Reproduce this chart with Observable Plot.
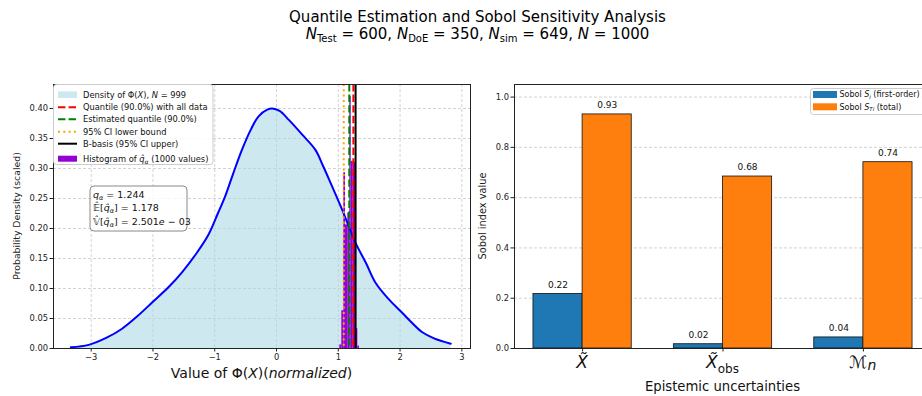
<!DOCTYPE html>
<html><head><meta charset="utf-8">
<script src="https://cdn.jsdelivr.net/npm/d3@7"></script>
<script src="https://cdn.jsdelivr.net/npm/@observablehq/plot@0.6"></script>
<style>
body{margin:0;background:#fff;}
#wrap{position:relative;width:922px;height:396px;overflow:hidden;font-family:"DejaVu Sans",sans-serif;background:#fff;}
#left,#right{position:absolute;top:0;width:480px;height:396px;}
#left{left:0px;} #right{left:460px;}
#left svg,#right svg{max-width:none !important;}
.title{position:absolute;left:0;width:955px;text-align:center;font-size:15px;line-height:18px;color:#000;white-space:nowrap;}
.title sub{font-size:10px;vertical-align:-3px;line-height:0;}
</style></head><body>
<div id="wrap">
  <div id="left"></div><div id="right"></div>
  <div class="title" style="top:8px">Quantile Estimation and Sobol Sensitivity Analysis</div>
  <div class="title" style="top:25px"><i>N</i><sub>Test</sub> = 600, <i>N</i><sub>DoE</sub> = 350, <i>N</i><sub>sim</sub> = 649, <i>N</i> = 1000</div>
</div>
<script>
// ---------- Left panel data ----------
const densX = [-3.33,-3.04,-2.75,-2.50,-2.25,-2.01,-1.75,-1.53,-1.30,-1.10,-0.95,-0.83,-0.70,-0.56,-0.42,-0.29,-0.15,-0.07,0.05,0.20,0.42,0.63,0.75,0.85,1.06,1.28,1.45,1.60,1.80,2.03,2.20,2.36,2.55,2.82];
const densY = [0.002,0.006,0.018,0.033,0.054,0.077,0.102,0.127,0.158,0.190,0.225,0.254,0.292,0.331,0.364,0.387,0.398,0.400,0.396,0.381,0.356,0.331,0.305,0.282,0.232,0.176,0.142,0.110,0.084,0.060,0.042,0.027,0.017,0.008];
const histEdges = [1.025,1.057,1.089,1.117,1.154,1.186,1.209,1.241,1.278,1.316,1.343];
const histHeights = [0.006,0.063,0.293,0.206,0.226,0.420,0.312,0.310,0.033,0.004];
const qCILower = 1.088;   // 95% CI lower bound
const qEstimated = 1.178; // estimated quantile
const qAllData = 1.244;   // quantile with all data
const qBBasis = 1.280;    // B-basis
const leftXTicks = [-3,-2,-1,0,1,2,3];
const leftYTicks = [0,0.05,0.10,0.15,0.20,0.25,0.30,0.35,0.40];

// ---------- Right panel data ----------
const sobolCategories = ["X~", "X~obs", "Mn"];
const sobolFirst = [0.217, 0.017, 0.044];
const sobolTotal = [0.931, 0.684, 0.741];
const rightYTicks = [0,0.2,0.4,0.6,0.8,1.0];

const dens = densX.map((x,i)=>({x, y: densY[i]}));
const hist = histHeights.map((h,i)=>({x1: histEdges[i], x2: histEdges[i+1], y: h}));

const gridStyle = {stroke:"#c8c8c8", strokeOpacity:1, strokeDasharray:"3,2", strokeWidth:0.8};
const dashLong = "7.4,3.2", dotted = "2,3.3";

const L = Plot.plot({
  width: 480, height: 396,
  marginLeft: 53, marginRight: 10, marginTop: 84, marginBottom: 48,
  style: {fontFamily: "DejaVu Sans", fontSize: "8.3px", background: "transparent", color: "#222", maxWidth: "none"},
  x: {domain: [-3.61, 3.14]},
  y: {domain: [0, 0.44]},
  marks: [
    Plot.gridX(leftXTicks, gridStyle),
    Plot.gridY(leftYTicks, gridStyle),
    Plot.areaY(dens, {x:"x", y:"y", fill:"#add8e6", fillOpacity:0.6, curve:"catmull-rom"}),
    Plot.rectY(hist, {x1:"x1", x2:"x2", y:"y", fill:"#9400d3", insetLeft:0, insetRight:0}),
    Plot.lineY(dens, {x:"x", y:"y", stroke:"blue", strokeWidth:2, curve:"catmull-rom"}),
    Plot.ruleX([qAllData], {stroke:"red", strokeWidth:2, strokeDasharray:dashLong}),
    Plot.ruleX([qEstimated], {stroke:"green", strokeWidth:2, strokeDasharray:dashLong}),
    Plot.ruleX([qCILower], {stroke:"orange", strokeWidth:2, strokeDasharray:dotted}),
    Plot.ruleX([qBBasis], {stroke:"black", strokeWidth:2}),
    Plot.frame({stroke:"#222", strokeWidth:1}),
    Plot.axisX(leftXTicks, {tickSize:3.5, tickPadding:2, tickFormat:d3.format("d"), label:null}),
    Plot.axisY(leftYTicks, {tickSize:3.5, tickPadding:2, tickFormat:d3.format(".2f"), label:null})
  ]
});
document.getElementById("left").appendChild(L);

const sl = d3.select(L);
// axis labels
sl.append("text").attr("transform","translate(17,216) rotate(-90)").attr("text-anchor","middle")
  .attr("dominant-baseline","middle").attr("font-size","9.3px").attr("fill","#222").text("Probability Density (scaled)");
sl.append("g").html(`<text x="261.5" y="378" text-anchor="middle" font-size="14px" fill="#111">Value of Φ(<tspan font-style="italic">X</tspan>)(<tspan font-style="italic">normalized</tspan>)</text>`);

// legend
const lg = sl.append("g").attr("font-size","8.3px").attr("fill","#111").attr("text-anchor","start");
lg.append("rect").attr("x",53.5).attr("y",84.5).attr("width",159.5).attr("height",80).attr("rx",3)
  .attr("fill","white").attr("fill-opacity",0.85).attr("stroke","#cccccc");
const ly = [94.7,107.3,119.3,131.7,143.7,158.7];
lg.append("rect").attr("x",58).attr("y",ly[0]-3.3).attr("width",19).attr("height",6.6).attr("fill","#add8e6").attr("fill-opacity",0.6);
lg.append("line").attr("x1",58).attr("x2",77).attr("y1",ly[1]).attr("y2",ly[1]).attr("stroke","red").attr("stroke-width",2).attr("stroke-dasharray",dashLong);
lg.append("line").attr("x1",58).attr("x2",77).attr("y1",ly[2]).attr("y2",ly[2]).attr("stroke","green").attr("stroke-width",2).attr("stroke-dasharray",dashLong);
lg.append("line").attr("x1",58).attr("x2",77).attr("y1",ly[3]).attr("y2",ly[3]).attr("stroke","orange").attr("stroke-width",2).attr("stroke-dasharray",dotted);
lg.append("line").attr("x1",58).attr("x2",77).attr("y1",ly[4]).attr("y2",ly[4]).attr("stroke","black").attr("stroke-width",2);
lg.append("rect").attr("x",58).attr("y",ly[5]-3).attr("width",19).attr("height",6).attr("fill","#9400d3");
const legTexts = [
  `Density of Φ(<tspan font-style="italic">X</tspan>), <tspan font-style="italic">N</tspan> = 999`,
  `Quantile (90.0%) with all data`,
  `Estimated quantile (90.0%)`,
  `95% CI lower bound`,
  `B-basis (95% CI upper)`,
  `Histogram of <tspan font-style="italic">q̂</tspan><tspan font-style="italic" font-size="6px" dy="2">α</tspan><tspan dy="-2"> (1000 values)</tspan>`
];
legTexts.forEach((t,i)=>{
  lg.append("g").html(`<text x="83" y="${ly[i]+3}" text-anchor="start" fill="#111">${t}</text>`);
});

// annotation box
const ab = sl.append("g").attr("font-size","9.5px").attr("fill","#111").attr("text-anchor","start");
ab.append("rect").attr("x",90).attr("y",186).attr("width",97).attr("height",45).attr("rx",4)
  .attr("fill","white").attr("fill-opacity",0.8).attr("stroke","#888");
ab.html(ab.html() + `
 <text x="93" y="197.5" text-anchor="start"><tspan font-style="italic">q</tspan><tspan font-style="italic" font-size="6.5px" dy="2">α</tspan><tspan dy="-2"> = 1.244</tspan></text>
 <text x="93" y="211" text-anchor="start"><tspan font-style="italic">𝔼̂</tspan>[<tspan font-style="italic">q̂</tspan><tspan font-style="italic" font-size="6.5px" dy="2">α</tspan><tspan dy="-2">] = 1.178</tspan></text>
 <text x="93" y="224.5" text-anchor="start"><tspan font-style="italic">𝕍̂</tspan>[<tspan font-style="italic">q̂</tspan><tspan font-style="italic" font-size="6.5px" dy="2">α</tspan><tspan dy="-2">] = 2.501</tspan><tspan font-style="italic">e</tspan> − 03</text>`);

// ---------- Right panel ----------
const rows = [];
sobolCategories.forEach((c,i)=>{
  rows.push({i, kind:"first", v: sobolFirst[i]});
  rows.push({i, kind:"total", v: sobolTotal[i]});
});
const barW = 0.35;
const R = Plot.plot({
  width: 480, height: 396,
  marginLeft: 54, marginRight: 9, marginTop: 84, marginBottom: 48,
  style: {fontFamily: "DejaVu Sans", fontSize: "8.3px", background: "transparent", color: "#222", maxWidth: "none"},
  x: {domain: [-0.485, 2.485]},
  y: {domain: [0, 1.05]},
  marks: [
    Plot.gridY(rightYTicks, gridStyle),
    Plot.rectY(rows, {
      x1: d => d.kind === "first" ? d.i - barW : d.i,
      x2: d => d.kind === "first" ? d.i : d.i + barW,
      y: "v",
      fill: d => d.kind === "first" ? "#1f77b4" : "#ff7f0e",
      stroke: "#111", strokeWidth: 0.8, insetLeft: 0, insetRight: 0
    }),
    Plot.text(rows, {
      x: d => d.kind === "first" ? d.i - barW/2 : d.i + barW/2,
      y: "v", text: d => d3.format(".2f")(d.v), dy: -9, fontSize: 9, fill: "#111"
    }),
    Plot.frame({stroke:"#222", strokeWidth:1}),
    Plot.axisX([0,1,2], {tickSize:3.5, tickFormat: () => "", label:null}),
    Plot.axisY(rightYTicks, {tickSize:3.5, tickPadding:2, tickFormat:d3.format(".1f"), label:null})
  ]
});
document.getElementById("right").appendChild(R);
const sr = d3.select(R);
const xs = R.scale("x");
const tickHTML = [
  `<tspan font-style="italic">X̃</tspan>`,
  `<tspan font-style="italic">X̃</tspan><tspan font-size="12px" dy="5">obs</tspan>`,
  `<tspan>ℳ</tspan><tspan font-style="italic" font-size="14px" dy="2">n</tspan>`
];
sobolCategories.forEach((c,i)=>{
  sr.append("g").html(`<text x="${xs.apply(i)}" y="368" text-anchor="middle" font-size="17px" fill="#111">${tickHTML[i]}</text>`);
});
sr.append("text").attr("x", xs.apply(1)).attr("y", 391).attr("text-anchor","middle").attr("font-size","13.2px").attr("fill","#111").text("Epistemic uncertainties");
sr.append("text").attr("transform","translate(23,216) rotate(-90)").attr("text-anchor","middle")
  .attr("dominant-baseline","middle").attr("font-size","9.8px").attr("fill","#222").text("Sobol index value");

// right legend
const rl = sr.append("g").attr("font-size","8px").attr("fill","#111").attr("text-anchor","start");
rl.append("rect").attr("x",350.5).attr("y",88.5).attr("width",120).attr("height",26).attr("rx",3)
  .attr("fill","white").attr("fill-opacity",0.85).attr("stroke","#cccccc");
rl.append("rect").attr("x",353).attr("y",91).attr("width",24).attr("height",7).attr("fill","#1f77b4");
rl.append("rect").attr("x",353).attr("y",103.3).attr("width",24).attr("height",7).attr("fill","#ff7f0e");
rl.append("g").html(`<text x="379.5" y="97.3" text-anchor="start">Sobol <tspan font-style="italic">S</tspan><tspan font-style="italic" font-size="5.5px" dy="1.5">i</tspan><tspan dy="-1.5"> (first-order)</tspan></text>
<text x="379.5" y="109.7" text-anchor="start">Sobol <tspan font-style="italic">S</tspan><tspan font-style="italic" font-size="5.5px" dy="1.5">Ti</tspan><tspan dy="-1.5"> (total)</tspan></text>`);
</script>
</body></html>
